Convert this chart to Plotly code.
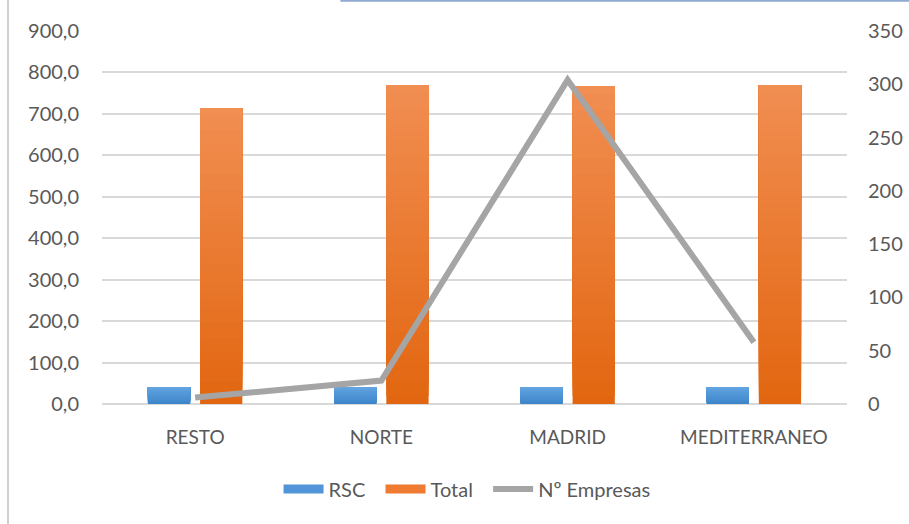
import plotly.graph_objects as go

# Regions and series
regiones = ["RESTO", "NORTE", "MADRID", "MEDITERRANEO"]
rsc = [40.0, 40.0, 40.0, 40.0]
total = [714.0, 770.0, 767.0, 770.0]
n_empresas = [6, 22, 304, 58]

left_ticks = [0, 100, 200, 300, 400, 500, 600, 700, 800, 900]
right_ticks = [0, 50, 100, 150, 200, 250, 300, 350]

FONT = "Lato"
TXT = "#595959"
GRID = "#D9D9D9"
PAD = "\u00a0\u00a0"  # extra room after legend labels

BLUE_TOP, BLUE_BOT = (0x62, 0xA3, 0xE0), (0x3D, 0x84, 0xCA)
ORANGE_TOP, ORANGE_BOT = (0xF1, 0x8E, 0x52), (0xE2, 0x66, 0x10)


def mix(c1, c2, t):
    return "rgb(%d,%d,%d)" % tuple(round(a + (b - a) * t) for a, b in zip(c1, c2))


fig = go.Figure()

# Gradient bars: each layer starts a bit higher and runs to the bar's top,
# drawn bottom-up in one offsetgroup so the colour shifts along the height.
N = 40
for name, vals, top, bot in [("RSC", rsc, BLUE_TOP, BLUE_BOT),
                             ("Total", total, ORANGE_TOP, ORANGE_BOT)]:
    for k in range(N):
        t = (k + 0.5) / N
        fig.add_trace(go.Bar(
            x=regiones,
            y=[v * (1 - k / N) for v in vals],
            base=[v * k / N for v in vals],
            offsetgroup=name,
            marker=dict(color=mix(bot, top, t), line=dict(width=0)),
            showlegend=False,
            hoverinfo="skip",
            yaxis="y",
        ))

# Legend swatches for the bar series
fig.add_trace(go.Scatter(x=[None], y=[None], mode="lines", name="RSC" + PAD,
                         line=dict(color="#5194D8", width=9)))
fig.add_trace(go.Scatter(x=[None], y=[None], mode="lines", name="Total" + PAD,
                         line=dict(color="#EE7B30", width=9)))

# Number of companies on the secondary axis
fig.add_trace(go.Scatter(
    x=regiones, y=n_empresas, mode="lines", name="Nº Empresas",
    line=dict(color="#A5A5A5", width=6), yaxis="y2",
))

fig.update_layout(
    width=909, height=524,
    margin=dict(l=102, r=62, t=31, b=120, autoexpand=False),
    paper_bgcolor="white", plot_bgcolor="white",
    separators=",.",
    font=dict(family=FONT, size=20, color=TXT),
    barmode="group", bargap=0.44, bargroupgap=0.19,
    showlegend=True,
    legend=dict(orientation="h", x=0.49, xanchor="center", y=-0.228,
                yanchor="middle", font=dict(size=20, color=TXT),
                itemwidth=40, traceorder="normal", tracegroupgap=0),
    xaxis=dict(showgrid=False, showline=False, zeroline=False,
               ticks="outside", ticklen=16, tickcolor="rgba(0,0,0,0)",
               tickfont=dict(size=19, color=TXT), automargin=False),
    yaxis=dict(range=[0, 900], tickvals=left_ticks, tickformat=".1f",
               showgrid=True, gridcolor=GRID, gridwidth=1.5,
               zeroline=True, zerolinecolor=GRID, zerolinewidth=1.5,
               showline=False, ticks="outside", ticklen=18,
               tickcolor="rgba(0,0,0,0)", tickfont=dict(size=20, color=TXT),
               automargin=False),
    yaxis2=dict(range=[0, 350], tickvals=right_ticks, overlaying="y",
                side="right", showgrid=False, zeroline=False, showline=False,
                ticks="outside", ticklen=16, tickcolor="rgba(0,0,0,0)",
                tickfont=dict(size=20, color=TXT), automargin=False),
    shapes=[
        dict(type="line", xref="paper", yref="paper", x0=-0.1262, x1=-0.1262,
             y0=-0.33, y1=1.09, line=dict(color="#D0D0D0", width=2)),
        dict(type="line", xref="paper", yref="paper", x0=0.32, x1=1.09,
             y0=1.081, y1=1.081, line=dict(color="#8FA9CF", width=2)),
    ],
)

fig.write_html("out.html")
